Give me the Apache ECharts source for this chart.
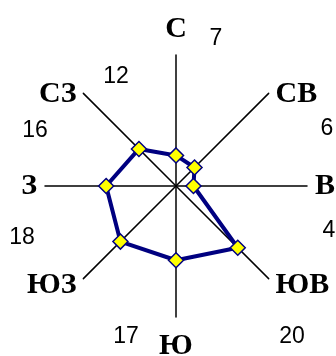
<!DOCTYPE html>
<html>
<head>
<meta charset="utf-8">
<script src="https://cdn.jsdelivr.net/npm/echarts@6/dist/echarts.min.js"></script>
<style>
	html, body { margin: 0; padding: 0; background: #fff; }
	#chart { width: 336px; height: 356px; }
</style>
</head>
<body>
<div id="chart"></div>
<script>
// направления (радар идёт против часовой стрелки от севера)
var categories = ['С', 'СЗ', 'З', 'ЮЗ', 'Ю', 'ЮВ', 'В', 'СВ'];
var values = [7, 12, 16, 18, 17, 20, 4, 6];
var maxValue = 30;

// где стоят подписи чисел (как в исходной картинке)
var valueLabelPos = [[216, 39], [116, 77], [35, 131], [22, 238], [126, 337], [292, 337], [329, 231], [327, 129]];

// стиль подписи для каждого направления
var nameStyle = {
	'С': 't', 'СЗ': 'tl', 'З': 'l', 'ЮЗ': 'bl',
	'Ю': 'b', 'ЮВ': 'br', 'В': 'r', 'СВ': 'tr'
};

var nameFont = {
	fontFamily: 'Liberation Serif',
	fontWeight: 'bold',
	fontSize: 30,
	color: '#000'
};
function ns(pad) {
	return Object.assign({ padding: pad }, nameFont);
}

var chart = echarts.init(document.getElementById('chart'));

var indicator = [];
for (var i = 0; i < categories.length; i++) {
	indicator.push({ name: categories[i], max: maxValue, min: 0 });
}

var graphic = [];
for (var i = 0; i < values.length; i++) {
	graphic.push({
		type: 'text',
		x: valueLabelPos[i][0],
		y: valueLabelPos[i][1],
		style: {
			text: String(values[i]),
			fontFamily: 'Liberation Sans',
			fontSize: 23,
			fill: '#000',
			align: 'center',
			verticalAlign: 'middle'
		}
	});
}

option = {
	animation: false,
	backgroundColor: '#fff',
	radar: {
		center: [176, 186],
		radius: 131,
		startAngle: 90,
		shape: 'polygon',
		splitNumber: 1,
		nameGap: -20,
		indicator: indicator,
		axisName: {
			formatter: function(name) {
				return '{' + nameStyle[name] + '|' + name + '}';
			},
			rich: {
				t: ns([0, 0, 31, 0]),
				b: ns([34, 0, 0, 0]),
				l: ns([0, 28, 0, 0]),
				r: ns([0, 0, 0, 28]),
				tl: ns([0, 21, 27, 0]),
				tr: ns([0, 0, 27, 21]),
				bl: ns([42, 21, 0, 0]),
				br: ns([42, 0, 0, 21])
			}
		},
		axisLine: { lineStyle: { color: '#000', width: 1.5 } },
		splitLine: { show: false },
		splitArea: { show: false },
		axisTick: { show: false },
		axisLabel: { show: false }
	},
	graphic: graphic,
	series: [{
		type: 'radar',
		symbol: 'diamond',
		symbolSize: 15,
		lineStyle: { color: '#000080', width: 4 },
		itemStyle: { color: '#ffff00', borderColor: '#000080', borderWidth: 1.5 },
		data: [{ value: values }]
	}]
};

chart.setOption(option);
</script>
</body>
</html>
